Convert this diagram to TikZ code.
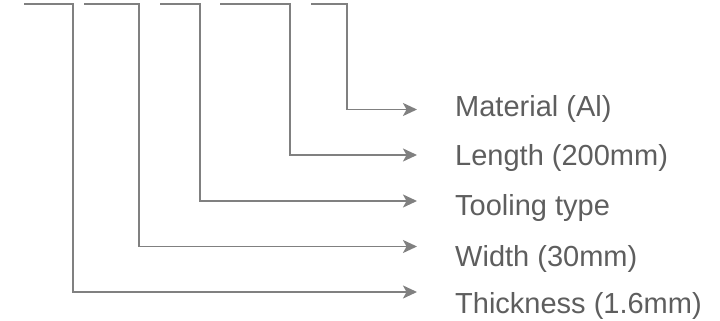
\documentclass[tikz,border=0pt]{standalone}
\usepackage{fontspec}
\setmainfont{Liberation Sans}
\usetikzlibrary{arrows.meta}
\definecolor{linegray}{HTML}{808080}
\definecolor{textgray}{HTML}{5E5E5E}
\begin{document}
\begin{tikzpicture}[x=1pt,y=-1pt,
  leader/.style={draw=linegray,line width=1.9pt,-{Stealth[length=14pt,width=13pt,inset=3.5pt]}},
  lbl/.style={anchor=base west,inner sep=0pt,text=textgray,font=\fontsize{29}{34}\selectfont}]
\useasboundingbox (0,0) rectangle (720,321);
% start points of the top stubs
\coordinate (s1) at (24,4.4);
\coordinate (s2) at (84,4.4);
\coordinate (s3) at (160,4.4);
\coordinate (s4) at (220,4.4);
\coordinate (s5) at (311,4.4);
% corners at the bottom of the verticals
\coordinate (c1) at (73,292);
\coordinate (c2) at (139,246.5);
\coordinate (c3) at (200,201);
\coordinate (c4) at (290,155);
\coordinate (c5) at (347,109.5);
% arrow tips
\coordinate (t1) at (417,292);
\coordinate (t2) at (417,246.5);
\coordinate (t3) at (417,201);
\coordinate (t4) at (417,155);
\coordinate (t5) at (417,109.5);
% labels
\node[lbl] (l5) at (455,116.5) {Material (Al)};
\node[lbl] (l4) at (455,165.5) {Length (200mm)};
\node[lbl] (l3) at (455,215) {Tooling type};
\node[lbl] (l2) at (455,266) {Width (30mm)};
\node[lbl] (l1) at (455,313) {Thickness (1.6mm)};
% leaders
\draw[leader] (s1) -| (c1) -- (t1);
\draw[leader] (s2) -| (c2) -- (t2);
\draw[leader] (s3) -| (c3) -- (t3);
\draw[leader] (s4) -| (c4) -- (t4);
\draw[leader] (s5) -| (c5) -- (t5);
\end{tikzpicture}
\end{document}
